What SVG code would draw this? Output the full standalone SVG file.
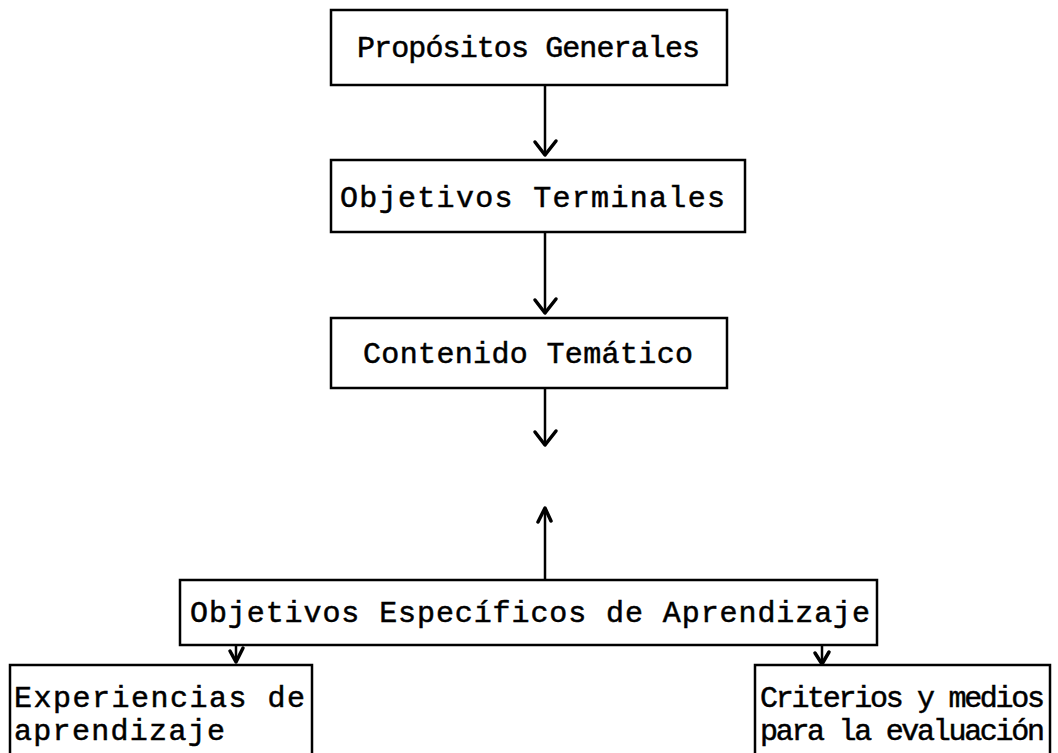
<svg xmlns="http://www.w3.org/2000/svg" width="1058" height="753" viewBox="0 0 1058 753">
<style>
.box{fill:#fff;stroke:#000;stroke-width:2.5}
.t{font-family:"Liberation Mono","Courier New",monospace;font-size:30px;fill:#000;stroke:#000;stroke-width:0.5}
.ln{fill:none;stroke:#000;stroke-width:2.5}
.hd{fill:none;stroke:#000;stroke-width:3.5;stroke-linecap:round;stroke-linejoin:round}
</style>
<rect width="1058" height="753" fill="#fff"/>
<g id="connectors">
<line class="ln" x1="545" y1="85" x2="545" y2="154"/>
<polyline class="hd" points="535,142 545,155 556,141"/>
<line class="ln" x1="545" y1="232" x2="545" y2="312"/>
<polyline class="hd" points="535,300 545,313 556,299"/>
<line class="ln" x1="545" y1="388" x2="545" y2="444"/>
<polyline class="hd" points="535,432 545,445 556,431"/>
<line class="ln" x1="545" y1="580" x2="545" y2="510"/>
<polyline class="hd" points="538,522 545,508 551,521"/>
<line class="ln" x1="236" y1="645" x2="236" y2="661"/>
<polyline class="hd" points="230,651 236,662 243,648"/>
<line class="ln" x1="822" y1="645" x2="822" y2="663"/>
<polyline class="hd" points="815,653 822,664 829,652"/>
</g>
<g id="n1"><rect class="box" x="331" y="10" width="396" height="75"/><text class="t" x="357" y="57" textLength="343">Propósitos Generales</text></g>
<g id="n2"><rect class="box" x="331" y="160" width="414" height="72"/><text class="t" x="340" y="207" textLength="385">Objetivos Terminales</text></g>
<g id="n3"><rect class="box" x="331" y="318" width="396" height="70"/><text class="t" x="363" y="363" textLength="330">Contenido Temático</text></g>
<g id="n4"><rect class="box" x="180" y="580" width="697" height="65"/><text class="t" x="190" y="622" textLength="680">Objetivos Específicos de Aprendizaje</text></g>
<g id="n5"><rect class="box" x="10" y="665" width="302" height="100"/><text class="t" x="14" y="707" textLength="291">Experiencias de</text><text class="t" x="14" y="740" textLength="211">aprendizaje</text></g>
<g id="n6"><rect class="box" x="755" y="665" width="295" height="100"/><text class="t" x="760" y="707" textLength="285">Criterios y medios</text><text class="t" x="760" y="740" textLength="285">para la evaluación</text></g>
</svg>
